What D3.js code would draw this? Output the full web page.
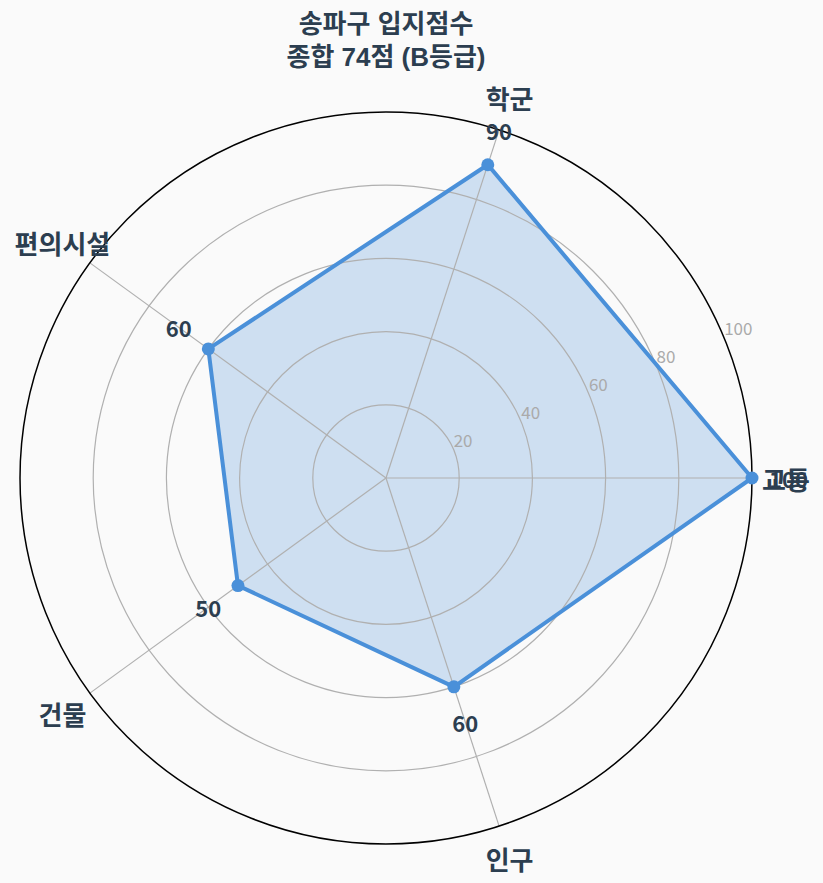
<!DOCTYPE html>
<html>
<head>
<meta charset="utf-8">
<script src="https://cdn.jsdelivr.net/npm/d3@7"></script>
<style>
  html, body { margin: 0; padding: 0; background: #fafafa; }
  svg { display: block; font-family: "Noto Sans CJK KR", "Noto Sans", sans-serif; }
</style>
</head>
<body>
<div id="content"></div>
<script>
// data
let categories = ['교통', '학군', '편의시설', '건물', '인구'];
let scores = [100, 90, 60, 50, 60];
let rTicks = [20, 40, 60, 80, 100];
let titleLines = ['송파구 입지점수', '종합 74점 (B등급)'];

let width = 823, height = 883;
let cx = 386, cy = 478, R = 366;

let svg = d3.select('#content').append('svg')
  .attr('width', width)
  .attr('height', height);

svg.append('rect').attr('width', width).attr('height', height).attr('fill', '#fafafa');

let r = d3.scaleLinear().domain([0, 100]).range([0, R]);
// angles counter-clockwise from east, like a polar plot
let angle = d3.scaleLinear().domain([0, categories.length]).range([0, 2 * Math.PI]);

function px(i, v) { return cx + r(v) * Math.cos(angle(i)); }
function py(i, v) { return cy - r(v) * Math.sin(angle(i)); }

let g = svg.append('g');

// the filled area first, grid goes over it
let pts = scores.map((v, i) => [px(i, v), py(i, v)]);
let lineGen = d3.line().curve(d3.curveLinearClosed);
g.append('path')
  .attr('d', lineGen(pts))
  .attr('fill', '#4a90d9')
  .attr('fill-opacity', 0.25)
  .attr('stroke', 'none');

// grid circles
g.selectAll('circle.grid')
  .data(rTicks.filter(d => d < 100))
  .join('circle')
  .attr('class', 'grid')
  .attr('cx', cx).attr('cy', cy)
  .attr('r', d => r(d))
  .attr('fill', 'none')
  .attr('stroke', '#b0b0b0')
  .attr('stroke-width', 1.2);

// spokes
g.selectAll('line.spoke')
  .data(categories)
  .join('line')
  .attr('class', 'spoke')
  .attr('x1', cx).attr('y1', cy)
  .attr('x2', (d, i) => px(i, 100))
  .attr('y2', (d, i) => py(i, 100))
  .attr('stroke', '#b0b0b0')
  .attr('stroke-width', 1.2);

// outer circle
g.append('circle')
  .attr('cx', cx).attr('cy', cy)
  .attr('r', r(100))
  .attr('fill', 'none')
  .attr('stroke', '#000')
  .attr('stroke-width', 1.5);

// radial tick labels at 22.5 deg
let rl = 22.5 * Math.PI / 180;
g.selectAll('text.rtick')
  .data(rTicks)
  .join('text')
  .attr('class', 'rtick')
  .attr('x', d => cx + r(d) * Math.cos(rl))
  .attr('y', d => cy - r(d) * Math.sin(rl) - 3)
  .attr('fill', '#aaaaaa')
  .attr('font-size', 17)
  .text(d => d);

// outline and markers
g.append('path')
  .attr('d', lineGen(pts))
  .attr('fill', 'none')
  .attr('stroke', '#4a90d9')
  .attr('stroke-width', 4)
  .attr('stroke-linejoin', 'miter');

g.selectAll('circle.pt')
  .data(scores)
  .join('circle')
  .attr('class', 'pt')
  .attr('cx', (d, i) => px(i, d))
  .attr('cy', (d, i) => py(i, d))
  .attr('r', 6.5)
  .attr('fill', '#4a90d9');

// category labels
g.selectAll('text.cat')
  .data(categories)
  .join('text')
  .attr('class', 'cat')
  .attr('x', (d, i) => cx + (R + 34) * Math.cos(angle(i)))
  .attr('y', (d, i) => cy - (R + 34) * Math.sin(angle(i)))
  .attr('text-anchor', 'middle')
  .attr('dominant-baseline', 'central')
  .attr('fill', '#2c3e50')
  .attr('font-size', 26)
  .attr('font-weight', 'bold')
  .text(d => d);

// value labels
g.selectAll('text.val')
  .data(scores)
  .join('text')
  .attr('class', 'val')
  .attr('x', (d, i) => px(i, d + 10))
  .attr('y', (d, i) => py(i, d + 10))
  .attr('text-anchor', 'middle')
  .attr('dominant-baseline', 'central')
  .attr('fill', '#2c3e50')
  .attr('font-size', 22)
  .attr('font-weight', 'bold')
  .text(d => d);

// title, one text per line (tighter line metrics so the two lines don't collide)
svg.selectAll('text.title')
  .data(titleLines)
  .join('text')
  .attr('class', 'title')
  .attr('x', 386)
  .attr('y', (d, i) => 33 + i * 33)
  .attr('text-anchor', 'middle')
  .attr('fill', '#2c3e50')
  .style('font-family', '"Liberation Sans", "Noto Sans CJK KR", sans-serif')
  .attr('font-size', 26)
  .attr('font-weight', 'bold')
  .text(d => d);
</script>
</body>
</html>
